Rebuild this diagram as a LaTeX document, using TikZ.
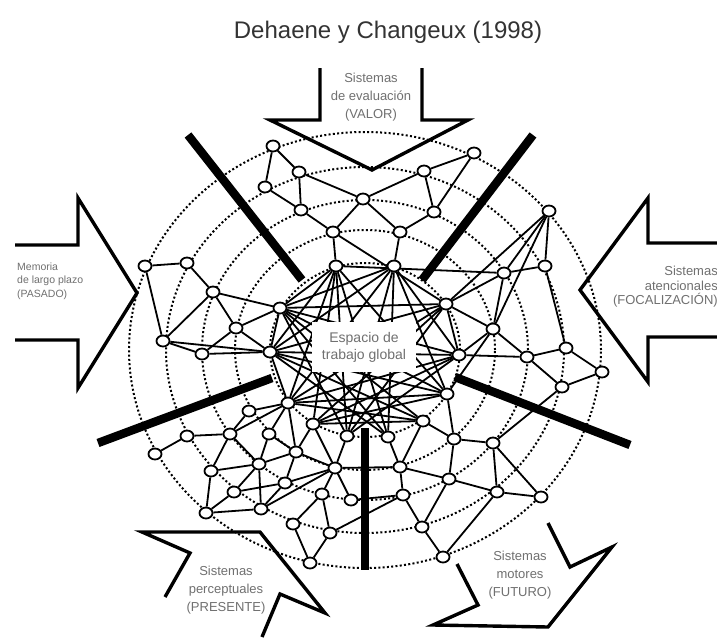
\documentclass[tikz,border=0pt]{standalone}
\usepackage{fontspec}
\setmainfont{Liberation Sans}
\usetikzlibrary{shapes.geometric}
\definecolor{labelgray}{HTML}{707070}
\definecolor{titlegray}{HTML}{333333}
\pgfdeclarelayer{net}
\pgfsetlayers{net,main}
\begin{document}
\begin{tikzpicture}[x=1pt,y=-1pt,
  ring/.style={line width=2pt, dash pattern=on 2pt off 2.3pt},
  link/.style={line width=1.8pt},
  unit/.style={ellipse, draw, fill=white, line width=1.8pt, minimum width=13pt, minimum height=11pt, inner sep=0pt},
  divider/.style={line width=8.5pt},
  bigarrow/.style={line width=3.4pt, line join=miter},
  lbl/.style={text=labelgray, font=\fontsize{13}{18}\selectfont, align=center, inner sep=0pt},
]
\useasboundingbox (0,0) rectangle (717,637);

% title
\node[text=titlegray, font=\fontsize{24}{28}\selectfont, inner sep=0pt] (title) at (388,32) {Dehaene y Changeux (1998)};

% network units
\foreach \n/\x/\y in {
  t1/273/146, t2/299/172, t3/265/187, t4/301/210, t5/333/232, t6/363/199,
  t7/424/171, t8/474/153, t9/434/212, t10/400/232,
  i1/336/266, i2/394/266, i3/446/304, i4/459/355, i5/447/394, i6/423/421,
  i7/388/437, i8/347/436, i9/313/424, i10/288/403, i11/270/352, i12/280/308,
  l1/145/266, l2/187/263, l3/213/292, l4/236/328, l5/163/341, l6/202/354,
  l7/249/411, l8/187/436, l9/230/434, l10/269/434, l11/155/454,
  b1/211/471, b2/259/464, b3/296/452, b4/234/492, b5/285/483, b6/335/468,
  b7/206/513, b8/261/509, b9/322/494, b10/351/500, b11/293/524, b12/330/533, b13/310/563,
  c1/454/439, c2/493/443, c3/400/467, c4/449/479, c5/497/492, c6/541/497,
  c7/403/495, c8/422/527, c9/443/557,
  r1/549/211, r2/504/273, r3/545/266, r4/493/329, r5/527/357, r6/566/348,
  r7/562/387, r8/602/372}
  \node[unit] (\n) at (\x,\y) {};

\begin{pgfonlayer}{net}
  \fill[white] (0,0) rectangle (717,637);
  % concentric dotted rings
  \foreach \rx/\ry in {95/87,130/120,163/150,199/183,236/218}
    \draw[ring] (365,350) ellipse [x radius=\rx pt, y radius=\ry pt];
  % connections
  \foreach \a/\b in {
    t1/t2, t1/t3, t2/t4, t3/t4, t2/t6, t4/t5, t6/t5, t6/t7, t6/t10, t7/t8,
    t7/t9, t8/t9, t9/t10, t5/i1, t10/i2, t5/i3,
    i1/i12, i1/i11, i1/i10, i1/i9, i1/i8, i1/i7, i1/i5, i2/i12, i2/i11, i2/i10,
    i2/i8, i2/i7, i2/i4, i2/i5, i3/i12, i3/i11, i3/i10, i3/i9, i3/i8, i4/i11,
    i4/i10, i4/i12, i5/i12, i5/i11, i5/i10, i6/i12, i6/i11, i6/i10, i7/i11,
    i7/i12, i8/i12, i8/i4, i9/i4, i9/i5, i10/i11, i11/i12, i3/i4, i6/i9,
    l1/l2, l1/l5, l2/l3, l3/i12, l3/l5, l3/l4, l4/i12, l4/l6, l4/i11, l5/l6,
    l5/i11, l6/i11, l7/i10, l7/l9, l8/l9, l8/l11, l9/i10, l10/i10, l10/b2,
    l10/b3, i10/b3, i9/b3, l9/b1, l9/b2,
    b1/b2, b1/b7, b2/b4, b2/b8, b2/b3, b4/b7, b4/b5, b5/b3, b5/b8, b7/b8,
    b8/b6, b5/b6, b3/b6, b6/b9, b6/b10, b9/b11, b9/b12, b11/b13, b12/b13,
    b10/c7, b12/c7, b6/c3, b6/i8, b6/i9,
    c1/c4, c2/c5, c2/c6, c5/c6, c4/c5, c3/c4, c3/c7, c4/c8, c7/c8, c8/c9,
    c5/c9, i5/c1, i6/c3, i7/c3, c1/c2, c2/r7, i6/c1,
    r1/r2, r1/r3, r2/r3, r1/i3, r1/r4, r2/i3, r2/i1, r2/r4, r4/i3, r4/i4,
    r4/r5, i4/r5, r5/r6, r5/r7, r6/r8, r7/r8, r3/r6, i5/r4}
    \draw[link] (\a) -- (\b);
\end{pgfonlayer}

% central workspace label
\node[fill=white, minimum width=104pt, minimum height=50pt, inner sep=0pt,
  text=labelgray, font=\fontsize{14}{17}\selectfont, align=center] (gws) at (364,347) {Espacio de\\trabajo global};

% radial dividers
\draw[divider] (188,135) -- (302,280);
\draw[divider] (533,135) -- (422,280);
\draw[divider] (98,443) -- (272,378);
\draw[divider] (455,377) -- (630,445);
\draw[divider] (365,428) -- (365,570);

% input / output arrows
\draw[bigarrow] (320,68) -- (320,120) -- (270,120) -- (372,170) -- (468,120) -- (422,120) -- (422,68);
\draw[bigarrow] (15,245) -- (78,245) -- (78,198) -- (137,293) -- (78,388) -- (78,340) -- (15,340);
\draw[bigarrow] (717,243) -- (648,243) -- (648,198) -- (580,290) -- (648,382) -- (648,337) -- (717,337);
\draw[bigarrow] (165,597) -- (190,553) -- (142,532) -- (260,532) -- (325,613) -- (280,594) -- (262,637);
\draw[bigarrow] (457,564) -- (478,605) -- (433,625) -- (548,627) -- (612,547) -- (570,567) -- (548,523);

% arrow labels
\node[lbl] (valor) at (371,97) {Sistemas\\de evaluación\\(VALOR)};
\node[lbl, font=\fontsize{10.5}{13.5}\selectfont, align=left, anchor=west] (pasado) at (17,281) {Memoria\\de largo plazo\\(PASADO)};
\node[lbl, font=\fontsize{13}{14.5}\selectfont, align=right, anchor=east] (focal) at (718,287) {Sistemas\\atencionales\\(FOCALIZACIÓN)};
\node[lbl] (presente) at (226,590) {Sistemas\\perceptuales\\(PRESENTE)};
\node[lbl] (futuro) at (520,575) {Sistemas\\motores\\(FUTURO)};
\end{tikzpicture}
\end{document}
